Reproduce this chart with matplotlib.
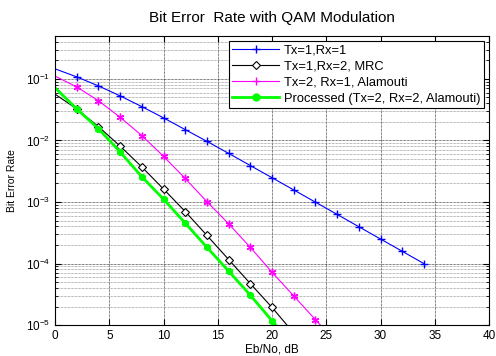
import matplotlib
matplotlib.use("Agg")
import matplotlib.pyplot as plt
import matplotlib.ticker as ticker
import numpy as np

plt.rcParams['font.family'] = ['Liberation Sans', 'DejaVu Sans']

# Eb/No values (dB)
ebno_1x1 = [0, 2, 4, 6, 8, 10, 12, 14, 16, 18, 20, 22, 24, 26, 28, 30, 32, 34]
ber_1x1 = [0.146, 0.108, 0.0771, 0.0530, 0.0355, 0.0233, 0.0150, 0.00967, 0.00617,
           0.00391, 0.00248, 0.00157, 0.000993, 0.000628, 0.000396, 0.00025,
           0.000158, 0.0000995]

ebno_mrc = [0, 2, 4, 6, 8, 10, 12, 14, 16, 18, 20, 22]
ber_mrc = [0.0566, 0.0325, 0.0168, 0.00809, 0.00371, 0.00162, 0.000698, 0.000286,
           0.000116, 4.71e-5, 1.93e-5, 7.4e-6]

ebno_ala = [0, 2, 4, 6, 8, 10, 12, 14, 16, 18, 20, 22, 24, 26]
ber_ala = [0.111, 0.0743, 0.0442, 0.0238, 0.0120, 0.00552, 0.00241, 0.00101,
           0.000442, 0.000183, 7.2e-5, 2.97e-5, 1.22e-5, 5.0e-6]

ebno_proc = [0, 2, 4, 6, 8, 10, 12, 14, 16, 18, 20, 22]
ber_proc = [0.072, 0.0325, 0.0155, 0.00649, 0.00257, 0.00111, 0.000453, 0.000183,
            7.52e-5, 3.05e-5, 1.17e-5, 4.7e-6]

labels = ['Tx=1,Rx=1', 'Tx=1,Rx=2, MRC', 'Tx=2, Rx=1, Alamouti',
          'Processed (Tx=2, Rx=2, Alamouti)']

fig = plt.figure(figsize=(4.96, 3.56), dpi=100)
ax = fig.add_axes([0.111, 0.087, 0.875, 0.812])

mk = slice(1, None)
ax.semilogy(ebno_1x1, ber_1x1, color='#0000ff', lw=0.8, marker='+', ms=5.5,
            mew=1.0, markevery=mk, label=labels[0])
ax.semilogy(ebno_mrc, ber_mrc, color='black', lw=0.8, marker='D', ms=4.2,
            mfc='white', mew=0.8, markevery=mk, label=labels[1])
ax.semilogy(ebno_ala, ber_ala, color='#ff00ff', lw=0.8, marker=(6, 2, 0), ms=5.5,
            mew=1.0, markevery=mk, label=labels[2])
ax.semilogy(ebno_proc, ber_proc, color='#00ff00', lw=2.0, marker=(6, 2, 0), ms=5,
            mew=2.0, markevery=mk, label=labels[3])

ax.set_xlim(0, 40)
ax.set_ylim(1e-5, 0.5)
ax.set_xticks(np.arange(0, 41, 5))
ax.yaxis.set_major_locator(ticker.LogLocator(base=10, numticks=10))
ax.yaxis.set_minor_locator(ticker.LogLocator(base=10, subs=np.arange(2, 10), numticks=20))
ax.yaxis.set_minor_formatter(ticker.NullFormatter())

ax.grid(True, which='major', color='black', lw=0.5, ls=(0, (1, 1)))
ax.grid(True, which='minor', axis='y', color='#777777', lw=0.5, ls=(0, (1, 1)))
ax.tick_params(which='both', direction='in', top=True, right=True, labelsize=8.5)
ax.tick_params(which='major', length=4)
ax.tick_params(which='minor', length=2)

ax.set_title('Bit Error  Rate with QAM Modulation', fontsize=11, pad=10)
ax.set_xlabel('Eb/No, dB', fontsize=8.5, labelpad=1)
ax.set_ylabel('Bit Error Rate', fontsize=7.5, labelpad=6)

leg = ax.legend(loc='upper right', fontsize=9.3, fancybox=False, framealpha=1,
                edgecolor='black', handlelength=3.6, handletextpad=0.4,
                borderpad=0.25, labelspacing=0.32, borderaxespad=0.4)
leg.get_frame().set_linewidth(0.8)
leg.legend_handles[3].set_marker('o')
leg.legend_handles[3].set_markersize(4)
for h in leg.legend_handles[:3]:
    h.set_marker('+' if h is not leg.legend_handles[1] else 'D')

fig.savefig('out.png', dpi=100)
